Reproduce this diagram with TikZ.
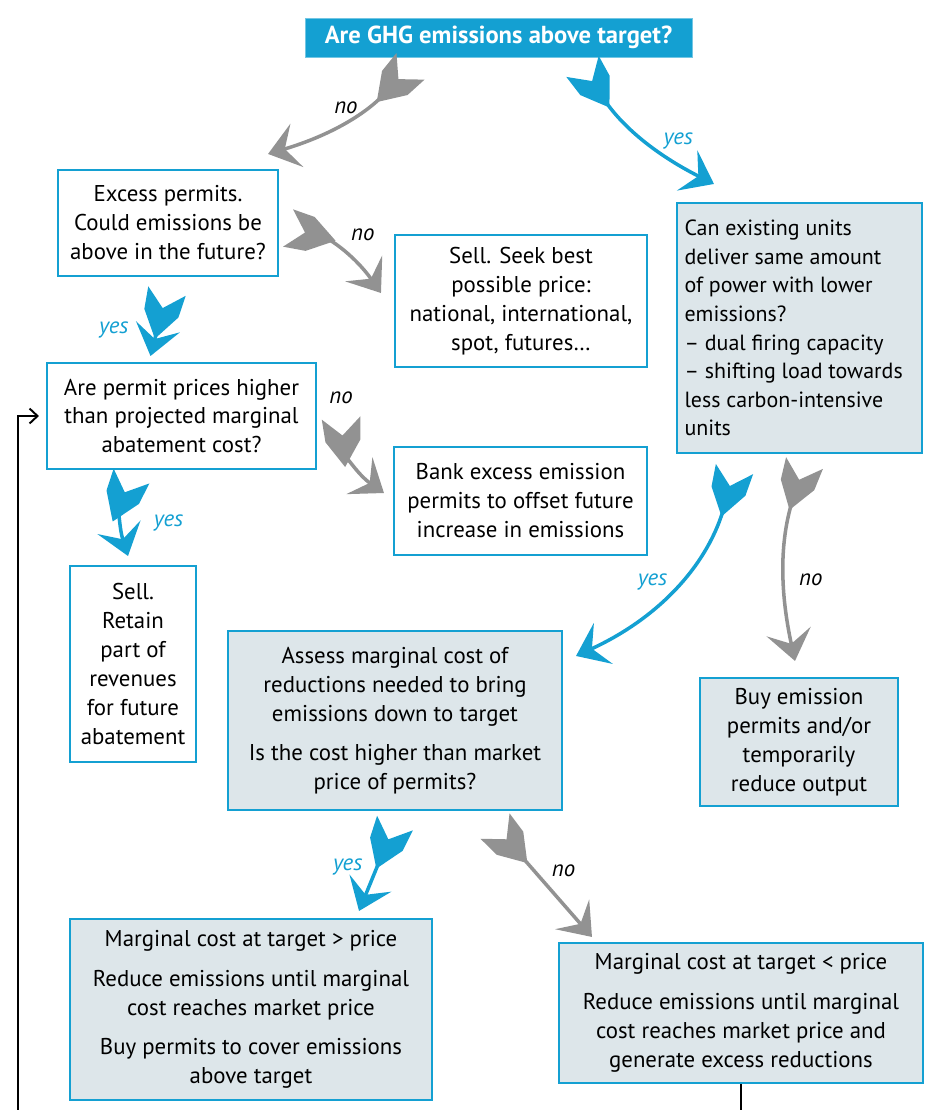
\documentclass[tikz,border=0pt]{standalone}
\usepackage{fontspec}
\setmainfont{PT Sans}
\usetikzlibrary{arrows.meta, calc, positioning}

\definecolor{ghgblue}{RGB}{20,160,210}
\definecolor{nogray}{RGB}{146,146,146}
\definecolor{actfill}{RGB}{221,230,234}

% feathered tail of the yes/no arrows
\pgfdeclarearrow{
  name = Fletch,
  setup code = {
    \pgfarrowssettipend{0pt}
    \pgfarrowssetlineend{-22pt}
    \pgfarrowssetbackend{-28pt}
    \pgfarrowssetvisualbackend{-28pt}
    \pgfarrowsupperhullpoint{0pt}{11pt}
    \pgfarrowsupperhullpoint{-28pt}{0pt}
  },
  drawing code = {
    \pgfpathmoveto{\pgfqpoint{0pt}{11pt}}
    \pgfpathlineto{\pgfqpoint{-10pt}{0pt}}
    \pgfpathlineto{\pgfqpoint{0pt}{-11pt}}
    \pgfpathlineto{\pgfqpoint{-13pt}{-10pt}}
    \pgfpathlineto{\pgfqpoint{-28pt}{0pt}}
    \pgfpathlineto{\pgfqpoint{-13pt}{10pt}}
    \pgfpathclose
    \pgfusepathqfill
  }
}

\begin{document}
\begin{tikzpicture}[x=0.02cm, y=-0.02cm, font=\fontsize{13}{16.5}\selectfont,
    askbox/.style={draw=ghgblue, line width=1.2pt, fill=white, align=center, inner sep=0pt},
    dobox/.style={askbox, fill=actfill},
    topbox/.style={fill=ghgblue, draw=ghgblue!60, text=white, inner sep=0pt,
      font=\fontsize{14}{16}\selectfont\bfseries},
    yesarr/.style={{Fletch}-{Stealth[length=6mm, width=9mm, inset=2.5mm]}, line width=2pt, ghgblue},
    noarr/.style={yesarr, nogray},
    yeslab/.style={font=\fontsize{13}{15}\selectfont\itshape, text=ghgblue},
    nolab/.style={yeslab, text=black},
    loopline/.style={black, line width=1.1pt}]

\useasboundingbox (0,0) rectangle (925,1110);

%
\node[topbox, minimum width=7.74cm, minimum height=0.78cm] (ghg) at (498.5,37.5) {Are GHG emissions above target?};

\node[askbox, minimum width=4.4cm, minimum height=2.12cm] (excess) at (168,223)
  {Excess permits.\\ Could emissions be\\ above in the future?};
\node[askbox, minimum width=5.04cm, minimum height=2.64cm] (sell) at (521,301)
  {Sell. Seek best\\ possible price:\\ national, international,\\ spot, futures\dots};
\node[askbox, minimum width=5.38cm, minimum height=2.12cm] (prices) at (181.5,416)
  {Are permit prices higher\\ than projected marginal\\ abatement cost?};
\node[askbox, minimum width=5.06cm, minimum height=2.16cm] (bank) at (520.5,501)
  {Bank excess emission\\ permits to offset future\\ increase in emissions};
\node[askbox, minimum width=2.52cm, minimum height=3.92cm] (retain) at (133,664)
  {Sell.\\ Retain\\ part of\\ revenues\\ for future\\ abatement};

%
\node[dobox, minimum width=4.9cm, minimum height=5cm, text width=4.6cm, align=flush left,
  font=\fontsize{12.5}{16.3}\selectfont] (units) at (799.5,328)
  {Can existing units\\ deliver same amount\\ of power with lower\\ emissions?\\ -- dual firing capacity\\ -- shifting load towards\\ less carbon-intensive\\ units};
\node[dobox, minimum width=6.68cm, minimum height=3.58cm] (assess) at (395,720.5)
  {Assess marginal cost of\\ reductions needed to bring\\ emissions down to target\\[6pt] Is the cost higher than market\\ price of permits?};
\node[dobox, minimum width=3.96cm, minimum height=2.56cm] (buy) at (799,742)
  {Buy emission\\ permits and/or\\ temporarily\\ reduce output};
\node[dobox, minimum width=7.24cm, minimum height=3.62cm] (above) at (251,1009.5)
  {Marginal cost at target > price\\[6pt] Reduce emissions until marginal\\ cost reaches market price\\[6pt] Buy permits to cover emissions\\ above target};
\node[dobox, minimum width=7.28cm, minimum height=2.8cm] (below) at (741,1013)
  {Marginal cost at target < price\\[6pt] Reduce emissions until marginal\\ cost reaches market price and\\ generate excess reductions};

%
\draw[noarr] ($(ghg.south)+(-88,9)$) to[bend left=15]
  node[nolab, pos=0.5, above=0pt] {no} ($(excess.north east)+(-11,-15)$);
\draw[yesarr] ($(ghg.south)+(84,9)$) to[bend right=15]
  node[yeslab, pos=0.55, right=6pt] {yes} ($(units.north west)+(38,-18)$);
\draw[noarr] ($(excess.east)+(9,5)$) to[bend left=20]
  node[nolab, pos=0.5, above right=2pt] {no} ($(sell.west)+(-13,-8)$);
\draw[yesarr] ($(excess.south)+(-1,14)$) to
  node[yeslab, pos=0.6, left=12pt] {yes} ($(prices.north)+(-31,-6)$);
\draw[noarr] ($(prices.east)+(24,2)$) to[bend right=25]
  node[nolab, at start, above=4pt] {no} ($(bank.west)+(-9,-8)$);
\draw[yesarr] ($(prices.south)+(-50,6)$) to[bend right=20]
  node[yeslab, pos=0.6, right=14pt] {yes} ($(retain.north)+(-5,-9)$);
\draw[yesarr] ($(units.south)+(-65,15)$) to[bend left=25]
  node[yeslab, pos=0.5, left=2pt] {yes} ($(assess.north east)+(13,26)$);
\draw[noarr] ($(units.south)+(5,9)$) to[bend right=15]
  node[nolab, pos=0.6, right=4pt] {no} ($(buy.north)+(-4,-16)$);
\draw[yesarr] ($(assess.south)+(0,12)$) to
  node[yeslab, pos=0.5, left=4pt] {yes} ($(above.north east)+(-74,-7)$);
\draw[noarr] ($(assess.south)+(100,15)$) to
  node[nolab, pos=0.4, right=6pt] {no} ($(below.north west)+(34,-5)$);

%
\coordinate (loopL) at (18,1110);
\coordinate (loopR) at ($(below.south)+(0,27)$);
\draw[loopline] (below.south) -- (loopR);
\draw[loopline, -{Straight Barb[length=1.6mm, width=3mm]}, shorten >=4pt] (loopL) |- (prices.west);
\end{tikzpicture}
\end{document}
